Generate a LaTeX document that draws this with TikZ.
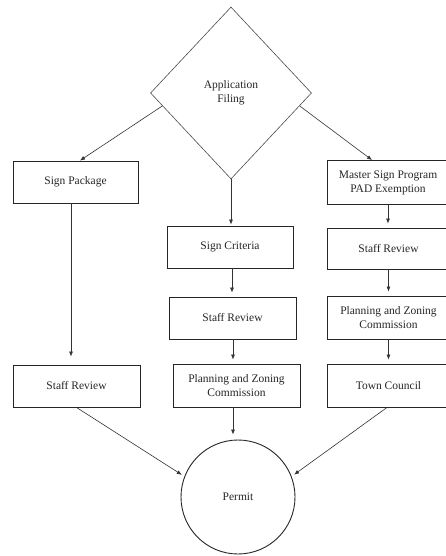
\documentclass[tikz,border=0pt]{standalone}
\usepackage{fontspec}
\setmainfont{Liberation Serif}
\usetikzlibrary{shapes.geometric,arrows.meta,calc}
\begin{document}
\begin{tikzpicture}[x=1pt,y=-1pt,
  box/.style={draw=black!85,line width=0.9pt,rectangle,inner sep=0pt,minimum height=42pt,align=center,font=\fontsize{11.5}{14}\selectfont},
  arr/.style={draw=black!80,line width=0.6pt,-{Latex[length=5pt,width=4pt]}},
  every node/.style={text=black!85}]
\useasboundingbox (0,0) rectangle (445,556);
\fill[white] (0,0) rectangle (445,556);
\node[draw=black!70,line width=0.6pt,diamond,minimum width=161pt,minimum height=172pt,inner sep=0pt,align=center,font=\fontsize{11.5}{14}\selectfont] (app) at (231,93) {Application\\Filing};
\node[box,minimum width=125pt] (sp) at (75.5,182) {Sign Package};
\node[box,minimum width=127pt] (ls) at (76.5,386) {Staff Review};
\node[box,minimum width=126pt] (crit) at (230,247) {Sign Criteria};
\node[box,minimum width=127pt] (ms) at (232.5,318) {Staff Review};
\node[box,minimum width=127pt,minimum height=43pt] (mp) at (236.5,385.5) {Planning and Zoning\\Commission};
\node[box,minimum width=122pt,minimum height=44pt] (master) at (388,182.5) {Master Sign Program\\PAD Exemption};
\node[box,minimum width=122pt,minimum height=41pt] (rs) at (388.5,248.5) {Staff Review};
\node[box,minimum width=122pt,minimum height=43pt] (rp) at (388.5,317.5) {Planning and Zoning\\Commission};
\node[box,minimum width=122pt,minimum height=43pt] (tc) at (388.5,385.5) {Town Council};
\node[draw=black!85,line width=0.9pt,circle,minimum size=114pt,inner sep=0pt,font=\fontsize{11.5}{14}\selectfont] (permit) at (238,497) {Permit};

\draw[arr] ($(app.west)!0.15!(app.south)$) -- ([xshift=4.5pt]sp.north);
\draw[arr] ($(app.east)!0.15!(app.south)$) -- ([xshift=-16pt]master.north);
\draw[arr,shorten >=1pt] (app.south) -- (app.south |- crit.north);
\draw[arr,shorten >=8pt] ([xshift=-4.5pt]sp.south) -- ([xshift=-4.5pt]sp.south |- ls.north);
\draw[arr,shorten >=4pt] ([xshift=2pt]crit.south) -- ([xshift=2pt]crit.south |- ms.north);
\draw[arr,shorten >=4pt] ([xshift=0.5pt]ms.south) -- ([xshift=0.5pt]ms.south |- mp.north);
\draw[arr,shorten >=5pt] ([xshift=-3.5pt]mp.south) -- ([xshift=-3.5pt]mp.south |- permit.north);
\draw[arr,shorten >=4pt] (master.south) -- (master.south |- rs.north);
\draw[arr,shorten >=4pt] (rs.south) -- (rs.south |- rp.north);
\draw[arr,shorten >=4pt] (rp.south) -- (rp.south |- tc.north);
\draw[arr,shorten >=3pt] (ls.south) -- (permit.159);
\draw[arr,shorten >=3pt] ([xshift=-1.5pt]tc.south) -- (permit.21);
\end{tikzpicture}
\end{document}
